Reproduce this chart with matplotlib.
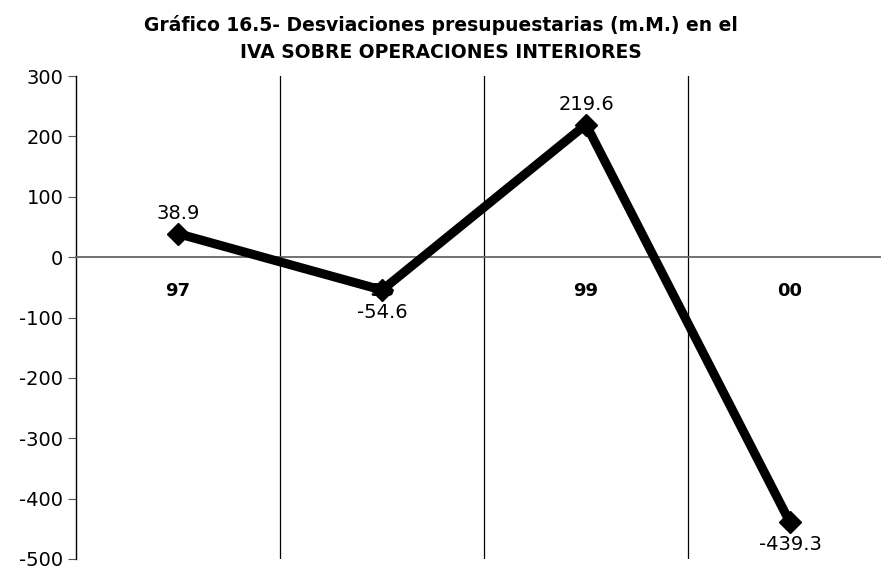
import matplotlib
matplotlib.use("Agg")
import matplotlib.pyplot as plt

categories = ["97", "98", "99", "00"]
values = [38.9, -54.6, 219.6, -439.3]
value_labels = ["38.9", "-54.6", "219.6", "-439.3"]
yticks = [300, 200, 100, 0, -100, -200, -300, -400, -500]

fig = plt.figure(figsize=(8.81, 5.66), dpi=100)
ax = fig.add_axes([76/881, 7/566, 816/881, 483/566])

for s in ["top", "right"]:
    ax.spines[s].set_visible(False)
ax.spines["bottom"].set_position(("data", 0))
ax.spines["bottom"].set_color("#666666")
ax.spines["bottom"].set_linewidth(1.3)
ax.spines["left"].set_color("black")
ax.spines["left"].set_linewidth(1.0)

x = list(range(len(categories)))
ax.plot(x, values, color="black", lw=6.5, marker="D", ms=11, zorder=5, clip_on=False)

ax.set_xlim(-0.5, 3.5)
ax.set_ylim(-500, 300)
ax.set_yticks(yticks)
ax.set_yticklabels([str(t) for t in yticks], fontsize=14)
ax.tick_params(axis="y", direction="out", length=6, color="#555555", pad=3)

ax.set_xticks(x)
ax.set_xticklabels(categories, fontsize=13, fontweight="bold")
ax.tick_params(axis="x", which="major", length=0, pad=18)
ax.set_xticks([0.5, 1.5, 2.5], minor=True)
ax.tick_params(axis="x", which="minor", length=0)
ax.grid(True, which="minor", axis="x", color="black", lw=0.9)

for xi, v, lab in zip(x, values, value_labels):
    off = 20 if v > 0 else -22
    ax.annotate(lab, (xi, v), xytext=(0, off), textcoords="offset pixels",
                ha="center", va="center", fontsize=14, zorder=6)

fig.text(0.5, 1 - 25/566, "Gráfico 16.5- Desviaciones presupuestarias (m.M.) en el",
         ha="center", va="center", fontsize=13.5, fontweight="bold")
fig.text(0.5, 1 - 53/566, "IVA SOBRE OPERACIONES INTERIORES",
         ha="center", va="center", fontsize=13.5, fontweight="bold")

fig.savefig("out.png", dpi=100)
